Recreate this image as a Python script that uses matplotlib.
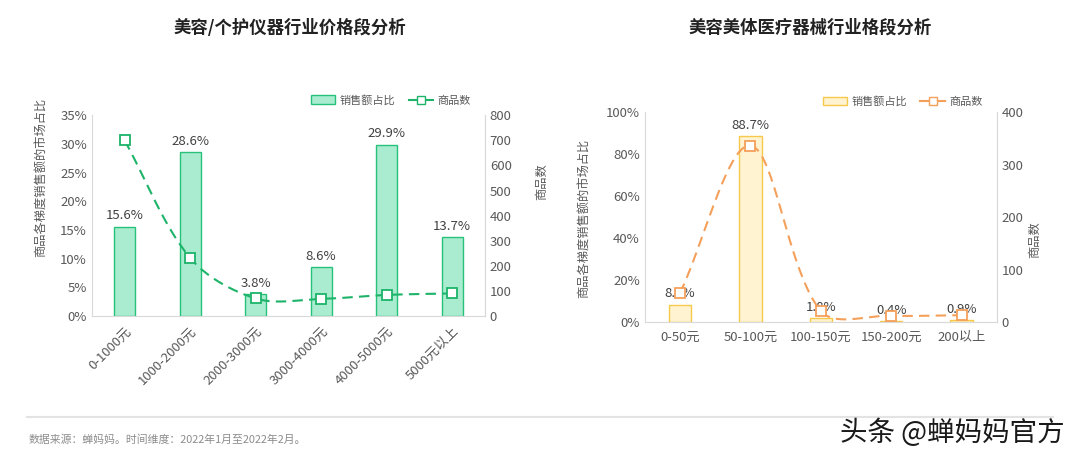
import numpy as np
import matplotlib
matplotlib.use("Agg")
import matplotlib.pyplot as plt
from matplotlib.ticker import FuncFormatter
from matplotlib.lines import Line2D
from matplotlib.patches import Patch

plt.rcParams['font.family'] = ['Noto Sans CJK SC', 'DejaVu Sans']

# ---------------- data ----------------
left_title = "美容/个护仪器行业价格段分析"
left_cats = ["0-1000元", "1000-2000元", "2000-3000元", "3000-4000元", "4000-5000元", "5000元以上"]
left_share = [15.6, 28.6, 3.8, 8.6, 29.9, 13.7]
left_count = [700, 232, 70, 68, 84, 90]

right_title = "美容美体医疗器械行业格段分析"
right_cats = ["0-50元", "50-100元", "100-150元", "150-200元", "200以上"]
right_share = [8.3, 88.7, 1.8, 0.4, 0.9]
right_count = [55, 336, 21, 12, 13]

ylabel_left = "商品各梯度销售额的市场占比"
ylabel_right = "商品数"
legend_bar = "销售额占比"
legend_line = "商品数"
source_text = "数据来源：蝉妈妈。时间维度：2022年1月至2022年2月。"
watermark = "头条 @蝉妈妈官方"

TICK_C = "#595959"
SPINE_C = "#d9d9d9"


def smooth_display(ax, xs, ys, tension=1 / 3, n=40):
    """Excel-like smoothed line: cubic Bezier through the points, computed in pixel space."""
    pts = ax.transData.transform(np.column_stack([xs, ys]).astype(float))
    P = np.vstack([pts[0], pts, pts[-1]])
    out = []
    t = np.linspace(0, 1, n)[:, None]
    for i in range(1, len(P) - 2):
        p0, p1, p2, p3 = P[i - 1], P[i], P[i + 1], P[i + 2]
        d01 = np.linalg.norm(p1 - p0)
        d12 = np.linalg.norm(p2 - p1)
        d23 = np.linalg.norm(p3 - p2)
        c1 = p1 + (p2 - p0) * tension * d12 / max(d01 + d12, 1e-9)
        c2 = p2 - (p3 - p1) * tension * d12 / max(d12 + d23, 1e-9)
        seg = ((1 - t) ** 3) * p1 + 3 * ((1 - t) ** 2) * t * c1 + 3 * (1 - t) * t ** 2 * c2 + t ** 3 * p2
        out.append(seg)
    out = np.vstack(out)
    return ax.transData.inverted().transform(out)


def draw(ax, cats, share, count, bar_fc, bar_ec, line_c, ymax, ystep, y2max, y2step,
         rot, legend_anchor):
    x = np.arange(len(cats))
    ax.bar(x, share, width=0.32, color=bar_fc, edgecolor=bar_ec, linewidth=1.0, zorder=2)
    ax.set_ylim(0, ymax)
    ax.set_yticks(np.arange(0, ymax + 0.01, ystep))
    ax.yaxis.set_major_formatter(FuncFormatter(lambda v, p: f"{v:.0f}%"))
    ax.set_xlim(-0.5, len(cats) - 0.5)
    ax.set_xticks(x)
    if rot:
        ax.set_xticklabels(cats, rotation=45, ha='right', rotation_mode='anchor')
    else:
        ax.set_xticklabels(cats)
    for xi, v in zip(x, share):
        ax.annotate(f"{v}%", (xi, v), xytext=(0, 3), textcoords='offset points',
                    ha='center', va='bottom', fontsize=9.5, color='#404040', zorder=5)
    ax.tick_params(axis='both', length=0, colors=TICK_C, labelsize=9.5)
    ax.tick_params(axis='x', pad=6)
    ax.spines['top'].set_visible(False)
    for s in ['left', 'right', 'bottom']:
        ax.spines[s].set_color(SPINE_C)
    ax.set_ylabel(ylabel_left, color=TICK_C, fontsize=8.8)

    ax2 = ax.twinx()
    ax2.set_ylim(0, y2max)
    ax2.set_xlim(-0.5, len(cats) - 0.5)
    ax2.set_yticks(np.arange(0, y2max + 1, y2step))
    curve = smooth_display(ax2, x, count)
    ax2.plot(curve[:, 0], curve[:, 1], color=line_c, lw=1.5, ls=(0, (5, 3)), zorder=3)
    ax2.plot(x, count, ls='none', marker='s', ms=7, mfc='white', mec=line_c, mew=1.3, zorder=4)
    ax2.tick_params(axis='y', length=0, colors=TICK_C, labelsize=9.5)
    for s in ['top', 'left', 'bottom']:
        ax2.spines[s].set_visible(False)
    ax2.spines['right'].set_color(SPINE_C)
    ax2.set_ylabel(ylabel_right, color=TICK_C, fontsize=8.8)

    handles = [Patch(facecolor=bar_fc, edgecolor=bar_ec, linewidth=1.0),
               Line2D([], [], color=line_c, lw=1.5, marker='s', ms=6, mfc='white', mec=line_c)]
    ax.legend(handles, [legend_bar, legend_line], ncol=2, frameon=False, loc='center right',
              bbox_to_anchor=legend_anchor, fontsize=8, labelcolor=TICK_C,
              handlelength=2.2, handleheight=0.8, columnspacing=1.2, handletextpad=0.4,
              borderpad=0, borderaxespad=0)
    return ax2


fig = plt.figure(figsize=(10.8, 4.61), dpi=100)

axL = fig.add_axes([0.085, 0.3145, 0.364, 0.4355])
axL2 = draw(axL, left_cats, left_share, left_count, '#aaeccf', '#27c27a', '#1db46a',
            35, 5, 800, 100, True, (0.965, 1.075))
axL.yaxis.set_label_coords(-0.112, 0.69)
axL2.yaxis.set_label_coords(1.127, 0.67)

axR = fig.add_axes([0.597, 0.3015, 0.326, 0.4555])
axR2 = draw(axR, right_cats, right_share, right_count, '#fff3d2', '#f5c94a', '#f5a05a',
            100, 20, 400, 100, False, (0.96, 1.05))
axR.yaxis.set_label_coords(-0.153, 0.495)
axR2.yaxis.set_label_coords(1.09, 0.39)

fig.text(0.268, 0.94, left_title, ha='center', va='center', fontsize=12.5, fontweight='bold', color='#222222')
fig.text(0.75, 0.94, right_title, ha='center', va='center', fontsize=12.5, fontweight='bold', color='#222222')

fig.add_artist(Line2D([0.025, 0.975], [1 - 417 / 461] * 2, color='#e3e3e3', lw=1.5,
                      transform=fig.transFigure))
fig.text(0.026, 1 - 440 / 461, source_text, ha='left', va='center', fontsize=7.8, color='#8c8c8c')
fig.text(0.986, 1 - 433 / 461, watermark, ha='right', va='center', fontsize=19.8, color='#1a1a1a')

fig.savefig("out.png", dpi=100)
